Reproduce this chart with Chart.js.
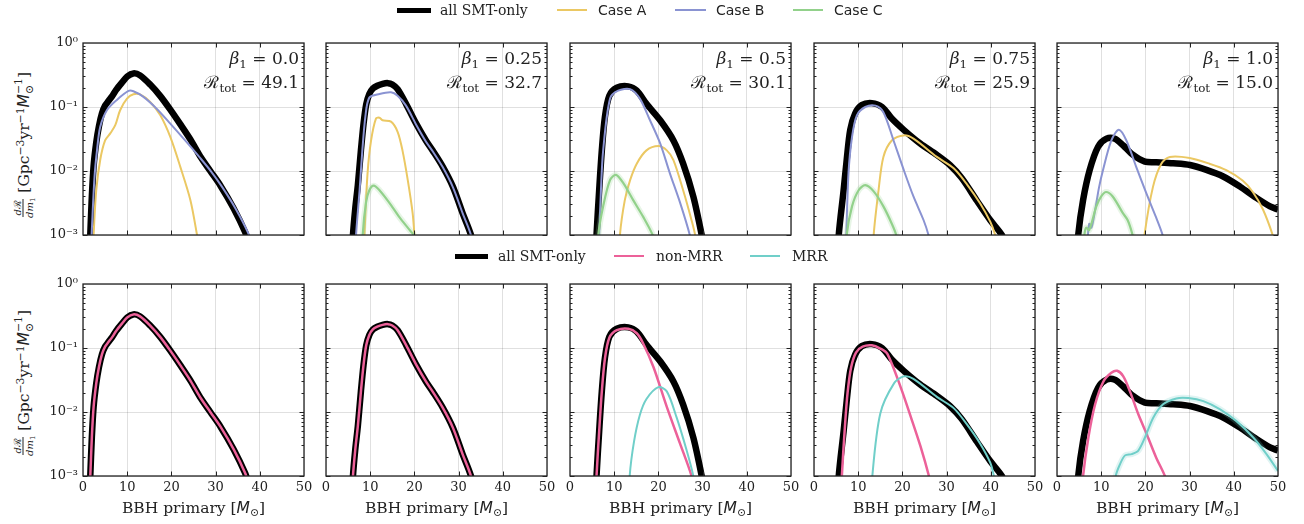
<!DOCTYPE html>
<html>
<head>
<meta charset="utf-8">
<title>BBH primary mass rate densities</title>
<script src="https://cdn.jsdelivr.net/npm/chart.js@4.4.1/dist/chart.umd.min.js"></script>
<style>
  body { margin: 0; width: 1304px; height: 524px; position: relative; overflow: hidden; background: #fff;
         font-family: 'DejaVu Serif', serif; color: #222; }
  canvas { position: absolute; }
  .lo { font-size: 0.7em; position: relative; top: 0.3em; }
  .hi { font-size: 0.7em; position: relative; top: -0.45em; }
  .ann { position: absolute; text-align: right; font-size: 17px; line-height: 22px; white-space: nowrap; }
  .sw { position: absolute; }
  .leg { position: absolute; font-size: 14px; line-height: 18px; white-space: nowrap; }
  .xlab { position: absolute; font-size: 15.5px; line-height: 20px; transform: translateX(-50%); white-space: nowrap; }
  .ylab { position: absolute; font-size: 15.5px; white-space: nowrap; transform: translate(-50%, -50%) rotate(-90deg);
          display: flex; align-items: center; }
  .frac { display: inline-flex; flex-direction: column; align-items: center; font-size: 10px; line-height: 11px; margin-right: 5px; }
  .frac span.num { border-bottom: 0.8px solid #222; padding: 0 1px; }
  .stk { display: inline-block; font-size: 0.7em; line-height: 0.95em; vertical-align: -0.3em; }
  .stk span { display: block; }
</style>
</head>
<body>
<script>
// ---- values: [BBH primary mass, dR/dm1] ----
const betas = ['0.0', '0.25', '0.5', '0.75', '1.0'];
const rates = ['49.1', '32.7', '30.1', '25.9', '15.0'];
const xTicks = [10, 20, 30, 40];
const yTicks = [1e-3, 1e-2, 1e-1, 1];
const yTickLabels = ['10⁻³', '10⁻²', '10⁻¹', '10⁰'];

// beta1 = 0.0
const totalC0 = [[1.35,3e-4],[1.65,1e-3],[2.0,0.004],[2.4,0.012],[3.0,0.028],[3.6,0.05],[4.3,0.08],[5.0,0.105],[5.8,0.125],[6.6,0.148],[7.5,0.185],[8.8,0.24],[10.0,0.3],[11.4,0.335],[12.9,0.312],[15.2,0.224],[17.5,0.148],[19.75,0.091],[22,0.054],[24.3,0.031],[26.5,0.017],[28.8,0.01],[31.1,0.0059],[34.1,0.0026],[36.7,0.0011],[37.6,0.0007]];
const caseAC0 = [[2.15,3e-4],[2.4,1e-3],[3.0,0.005],[3.9,0.015],[5.0,0.030],[6.2,0.039],[7.3,0.052],[8.4,0.089],[9.95,0.135],[11.4,0.158],[12.9,0.157],[15.2,0.12],[17.5,0.074],[19.75,0.034],[22,0.0117],[24.3,0.0035],[25.8,0.001],[26.3,0.0006]];
const caseBC0 = [[1.65,3e-4],[1.95,1e-3],[2.6,0.008],[3.2,0.022],[3.9,0.049],[5.4,0.089],[7.6,0.128],[10.3,0.178],[11.4,0.176],[13.6,0.145],[16.6,0.095],[19.75,0.055],[23.5,0.028],[26.5,0.016],[29,0.0098],[31.5,0.0056],[34.5,0.0026],[37.3,0.0011],[38.2,0.0007]];
const caseCC0 = [];
const nonMrrC0 = totalC0;
const mrrC0 = [];

// beta1 = 0.25
const totalC1 = [[5.7,3e-4],[6.1,1e-3],[6.6,0.0025],[7.2,0.006],[7.9,0.021],[8.5,0.055],[9.1,0.11],[9.8,0.16],[10.6,0.195],[11.6,0.215],[12.8,0.23],[14.0,0.236],[15.0,0.225],[16.2,0.19],[18.1,0.112],[20.4,0.055],[22.6,0.030],[24.1,0.021],[26.4,0.0117],[28.7,0.0057],[30.9,0.0022],[32.8,0.001],[33.3,0.0006]];
const caseAC1 = [[8.5,3e-4],[8.7,1e-3],[9.4,0.0092],[10.2,0.030],[11.3,0.066],[12.1,0.068],[12.8,0.062],[14.7,0.059],[16.2,0.041],[17.3,0.021],[18.5,0.0072],[19.6,0.0022],[20.0,0.001],[20.2,0.0006]];
const caseBC1 = [[6.5,3e-4],[6.8,1e-3],[7.6,0.005],[8.2,0.02],[8.9,0.07],[9.8,0.14],[12.1,0.16],[14.7,0.17],[16.2,0.15],[18.1,0.105],[20.4,0.053],[22.6,0.029],[24.1,0.0205],[26.4,0.0115],[28.7,0.0056],[30.9,0.0022],[32.8,0.001],[33.3,0.0006]];
const caseCC1 = [[8.1,3e-4],[8.3,1e-3],[9.05,0.0032],[9.8,0.005],[10.8,0.0059],[12.1,0.005],[14.3,0.0032],[16.6,0.0019],[18.9,0.0012],[19.8,0.001],[20.3,0.0007]];
const nonMrrC1 = totalC1;
const mrrC1 = [];

// beta1 = 0.5
const totalC2 = [[5.7,3e-4],[6.0,1e-3],[6.6,0.005],[7.2,0.021],[7.9,0.07],[8.9,0.15],[10.6,0.2],[13.2,0.21],[15.1,0.18],[17.3,0.112],[20.4,0.062],[23.4,0.030],[25.6,0.013],[27.9,0.004],[29.8,0.001],[30.3,0.0006]];
const caseAC2 = [[11.1,3e-4],[11.3,1e-3],[12.4,0.0035],[13.6,0.0072],[15.1,0.013],[17.3,0.021],[20.0,0.0245],[21.9,0.021],[23.4,0.0148],[25.6,0.005],[27.5,0.0017],[28.3,0.001],[28.6,0.0006]];
const caseBC2 = [[6.3,3e-4],[6.6,1e-3],[7.0,0.005],[7.5,0.021],[9.05,0.135],[10.9,0.18],[13.6,0.19],[15.8,0.135],[18.1,0.062],[20.4,0.027],[22.6,0.0092],[24.9,0.0032],[27.1,0.001],[27.6,0.0006]];
const caseCC2 = [[6.2,3e-4],[6.4,1e-3],[7.5,0.0028],[9.05,0.0072],[10.4,0.0087],[12.1,0.0064],[14.3,0.0035],[16.6,0.0019],[18.7,0.001],[19.2,0.0007]];
const nonMrrC2 = [[5.7,3e-4],[6.0,1e-3],[6.6,0.005],[7.2,0.021],[7.9,0.068],[8.9,0.145],[10.6,0.19],[13.2,0.2],[15.1,0.17],[16.5,0.12],[18.9,0.05],[21.9,0.012],[24.9,0.0032],[27.5,0.001],[28.0,0.0006]];
const mrrC2 = [[13.3,3e-4],[13.5,1e-3],[14.5,0.0035],[15.8,0.009],[17.3,0.016],[20,0.0245],[21.9,0.021],[24.1,0.0083],[26.4,0.0025],[27.9,0.001],[28.3,0.0006]];

// beta1 = 0.75
const totalC3 = [[5.3,3e-4],[5.6,1e-3],[6.7,0.005],[7.4,0.015],[8.2,0.044],[9.3,0.079],[10.8,0.107],[13.1,0.115],[15.4,0.1],[17.6,0.066],[20.3,0.044],[24.0,0.027],[27.8,0.0178],[30.8,0.0123],[33.4,0.0078],[36.9,0.0034],[39.9,0.0017],[42.5,0.001],[43.2,0.0007]];
const caseAC3 = [[13.3,3e-4],[13.5,1e-3],[14.6,0.005],[15.7,0.0166],[17.6,0.030],[20.3,0.036],[22.5,0.032],[27.8,0.0166],[31.6,0.011],[34.6,0.0062],[37.6,0.0031],[39.9,0.0016],[41.0,0.001],[41.5,0.0007]];
const caseBC3 = [[7.0,3e-4],[7.3,1e-3],[7.8,0.0092],[8.6,0.034],[9.7,0.074],[11.6,0.10],[13.9,0.105],[15.7,0.083],[18.0,0.030],[20.3,0.0104],[22.5,0.004],[24.8,0.0017],[25.9,0.001],[26.3,0.0007]];
const caseCC3 = [[7.2,3e-4],[7.4,1e-3],[8.6,0.0028],[10.1,0.005],[11.6,0.006],[13.5,0.0048],[15.7,0.0028],[17.6,0.0015],[18.6,0.001],[19.0,0.0007]];
const nonMrrC3 = [[6.0,3e-4],[6.3,1e-3],[7.0,0.006],[7.6,0.02],[8.4,0.05],[9.5,0.085],[11,0.105],[13.1,0.11],[15,0.098],[16.6,0.081],[19.6,0.0245],[21.9,0.0084],[24.1,0.0029],[26,0.001],[26.4,0.0007]];
const mrrC3 = [[13.0,3e-4],[13.2,1e-3],[15,0.0095],[18.1,0.028],[20.3,0.036],[22.5,0.033],[27.8,0.0172],[31.6,0.0115],[34.6,0.0064],[37.6,0.0032],[39.9,0.0016],[40.7,0.001],[41.1,0.0007]];

// beta1 = 1.0
const totalC4 = [[4.5,4e-4],[4.8,1e-3],[5.9,0.0035],[7.4,0.0104],[9.3,0.024],[11.2,0.032],[13.1,0.032],[15.0,0.025],[17.2,0.0178],[19.9,0.014],[22.5,0.0137],[26.3,0.0132],[30.1,0.0124],[33.8,0.0104],[37.6,0.0082],[41.4,0.0057],[45.1,0.0038],[48.2,0.0028],[50,0.0025]];
const caseAC4 = [[19.6,5e-4],[19.8,1e-3],[21.7,0.0056],[23.6,0.013],[25.5,0.0166],[30,0.016],[34.5,0.013],[38.3,0.0103],[42.0,0.0071],[44.3,0.0047],[46.6,0.0025],[48.8,0.001],[49.3,0.0007]];
const caseBC4 = [[6.8,5e-4],[7.0,1e-3],[7.3,0.0015],[7.8,0.0013],[8.6,0.0024],[9.5,0.0055],[10.4,0.0103],[12.3,0.03],[14.0,0.044],[15.7,0.03],[17.9,0.0117],[20.2,0.0045],[22.4,0.0019],[23.9,0.001],[24.3,0.0007]];
const caseCC4 = [[6.0,5e-4],[6.2,1e-3],[6.6,0.0013],[7.3,0.0012],[8.9,0.0028],[10.0,0.004],[11.1,0.0047],[12.6,0.004],[14.9,0.0022],[16.0,0.0017],[17.1,0.001],[17.5,0.0007]];
const nonMrrC4 = [[5.7,5e-4],[5.9,1e-3],[7.1,0.004],[8.6,0.013],[10.5,0.030],[12.3,0.041],[13.6,0.044],[15.0,0.036],[16.5,0.021],[18.4,0.0092],[20.3,0.0045],[22.5,0.0019],[24.4,0.001],[24.8,0.0007]];
const mrrC4 = [[13.1,5e-4],[13.3,1e-3],[14.2,0.0015],[15.4,0.0021],[16.9,0.0022],[18.4,0.0025],[19.9,0.004],[21.8,0.0082],[24.0,0.0132],[27.0,0.0163],[29.7,0.0165],[33.1,0.0148],[36.9,0.011],[40.6,0.0072],[44.4,0.004],[47.4,0.0022],[50,0.0012]];

const totals = [totalC0, totalC1, totalC2, totalC3, totalC4];
const caseA = [caseAC0, caseAC1, caseAC2, caseAC3, caseAC4];
const caseB = [caseBC0, caseBC1, caseBC2, caseBC3, caseBC4];
const caseC = [caseCC0, caseCC1, caseCC2, caseCC3, caseCC4];
const nonMrr = [nonMrrC0, nonMrrC1, nonMrrC2, nonMrrC3, nonMrrC4];
const mrr = [mrrC0, mrrC1, mrrC2, mrrC3, mrrC4];

// ---- look ----
const colors = { total: '#000000', A: '#ebc863', B: '#8a93d2', C: '#92d18b', nonMrr: '#ec6199', mrr: '#70cfc9' };
const plotLefts = [83, 326, 570, 814, 1057];
const rowTops = [43, 284];
const plotW = 221, plotH = 192;
const padL = 40, padR = 14, padT = 12, padB = 30;
const tickFont = { family: 'DejaVu Serif', size: 13 };

// frame and inward ticks on all four sides, drawn over the curves
const framePlugin = {
    id: 'frame',
    afterDatasetsDraw(chart) {
        const { ctx, chartArea: a, scales: { x, y } } = chart;
        ctx.save();
        ctx.strokeStyle = '#222';
        ctx.lineWidth = 1;
        const seg = (x1, y1, x2, y2) => { ctx.beginPath(); ctx.moveTo(x1, y1); ctx.lineTo(x2, y2); ctx.stroke(); };
        xTicks.forEach(v => {
            const px = Math.round(x.getPixelForValue(v)) + 0.5;
            seg(px, a.bottom, px, a.bottom - 4.5);
            seg(px, a.top, px, a.top + 4.5);
        });
        for (let d = -3; d < 0; d++) {
            for (let k = 1; k < 10; k++) {
                const v = k * Math.pow(10, d);
                const len = k === 1 ? 4.5 : 2.5;
                const py = Math.round(y.getPixelForValue(v)) + 0.5;
                seg(a.left, py, a.left + len, py);
                seg(a.right, py, a.right - len, py);
            }
        }
        ctx.lineWidth = 1.3;
        ctx.strokeRect(a.left, a.top, a.right - a.left, a.bottom - a.top);
        ctx.restore();
    }
};

function toXY(pairs) {
    return pairs.map(p => ({ x: p[0], y: p[1] }));
}

function lineSet(pairs, color, width) {
    return {
        data: toXY(pairs),
        borderColor: color,
        borderWidth: width,
        pointRadius: 0,
        fill: false,
        tension: 0.3,
        capBezierPoints: false,
        borderJoinStyle: 'round',
        clip: 0
    };
}

function bandSet(pairs, color) {
    return lineSet(pairs, color + '38', 6);
}

function makePanel(row, col) {
    const cv = document.createElement('canvas');
    cv.width = plotW + padL + padR;
    cv.height = plotH + padT + padB;
    cv.style.left = (plotLefts[col] - padL) + 'px';
    cv.style.top = (rowTops[row] - padT) + 'px';
    cv.style.width = cv.width + 'px';
    cv.style.height = cv.height + 'px';
    document.body.appendChild(cv);

    // first dataset is drawn on top
    const datasets = [];
    if (row === 0) {
        if (caseC[col].length) {
            datasets.push(lineSet(caseC[col], colors.C, 2.2));
            datasets.push(bandSet(caseC[col], colors.C));
        }
        datasets.push(lineSet(caseB[col], colors.B, 2));
        datasets.push(lineSet(caseA[col], colors.A, 2));
        datasets.push(lineSet(totals[col], colors.total, 6.5));
    } else {
        if (mrr[col].length) {
            datasets.push(lineSet(mrr[col], colors.mrr, 2));
            if (col === 4) datasets.push(bandSet(mrr[col], colors.mrr));
        }
        datasets.push(lineSet(nonMrr[col], colors.nonMrr, 2.5));
        datasets.push(lineSet(totals[col], colors.total, 6.5));
    }

    new Chart(cv, {
        type: 'line',
        data: { datasets: datasets },
        options: {
            responsive: false,
            animation: false,
            devicePixelRatio: 1,
            events: [],
            layout: { padding: { top: padT, right: padR, left: 0, bottom: 0 } },
            plugins: { legend: { display: false }, tooltip: { enabled: false } },
            scales: {
                x: {
                    type: 'linear', min: 0, max: 50,
                    ticks: { stepSize: 10, display: row === 1, font: tickFont, color: '#222', padding: 4, maxRotation: 0, autoSkip: false },
                    grid: { color: 'rgba(0,0,0,0.12)', drawTicks: false },
                    border: { display: false },
                    afterFit(s) { s.height = padB; s.paddingLeft = 0; s.paddingRight = 0; }
                },
                y: {
                    type: 'logarithmic', min: 1e-3, max: 1,
                    afterBuildTicks(s) { s.ticks = yTicks.map(v => ({ value: v })); },
                    ticks: { display: col === 0, font: tickFont, color: '#222', padding: 5, callback: (v, i) => yTickLabels[i] },
                    grid: { color: 'rgba(0,0,0,0.12)', drawTicks: false },
                    border: { display: false },
                    afterFit(s) { s.width = padL; s.paddingTop = 0; s.paddingBottom = 0; }
                }
            }
        },
        plugins: [framePlugin]
    });
}

function addHTML(html) {
    document.body.insertAdjacentHTML('beforeend', html);
}

for (let row = 0; row < 2; row++) {
    for (let col = 0; col < 5; col++) makePanel(row, col);
}

// beta / total-rate annotations and x labels
for (let col = 0; col < 5; col++) {
    const right = 1304 - (plotLefts[col] + plotW - 5);
    addHTML(`<div class="ann" style="right:${right}px;top:47px">` +
        `<div><i>β</i><span class="lo">1</span> = ${betas[col]}</div>` +
        `<div>ℛ<span class="lo">tot</span> = ${rates[col]}</div></div>`);
    addHTML(`<div class="xlab" style="left:${plotLefts[col] + plotW / 2}px;top:498px">` +
        `BBH primary [<i style="font-family:'DejaVu Sans'">M</i><span class="lo">⊙</span>]</div>`);
}

// y-axis labels
[145, 383].forEach(cy => {
    addHTML(`<div class="ylab" style="left:24px;top:${cy}px">` +
        `<span class="frac"><span class="num"><i>d</i>ℛ</span><span><i>dm</i><span class="lo">1</span></span></span>` +
        `<span>[Gpc<span class="hi">−3</span>yr<span class="hi">−1</span><i style="font-family:'DejaVu Sans'">M</i>` +
        `<span class="stk"><span>−1</span><span>⊙</span></span>]</span></div>`);
});

// legends
const legendTop = [
    { sw: 397, w: 34, tx: 440, color: colors.total, th: 5, label: 'all SMT-only', font: 'DejaVu Serif' },
    { sw: 557, w: 30, tx: 598, color: colors.A, th: 2, label: 'Case A', font: 'DejaVu Sans' },
    { sw: 675, w: 31, tx: 716, color: colors.B, th: 2, label: 'Case B', font: 'DejaVu Sans' },
    { sw: 793, w: 30, tx: 834, color: colors.C, th: 2, label: 'Case C', font: 'DejaVu Sans' }
];
const legendBottom = [
    { sw: 455, w: 33, tx: 498, color: colors.total, th: 5, label: 'all SMT-only', font: 'DejaVu Serif' },
    { sw: 614, w: 30, tx: 656, color: colors.nonMrr, th: 2, label: 'non-MRR', font: 'DejaVu Serif' },
    { sw: 750, w: 30, tx: 792, color: colors.mrr, th: 2, label: 'MRR', font: 'DejaVu Serif' }
];
function drawLegend(items, cy) {
    items.forEach(it => {
        addHTML(`<div class="sw" style="left:${it.sw}px;top:${cy - it.th / 2}px;width:${it.w}px;height:${it.th}px;background:${it.color}"></div>`);
        addHTML(`<div class="leg" style="left:${it.tx}px;top:${cy - 9}px;font-family:'${it.font}'">${it.label}</div>`);
    });
}
drawLegend(legendTop, 10);
drawLegend(legendBottom, 256);
</script>
</body>
</html>
